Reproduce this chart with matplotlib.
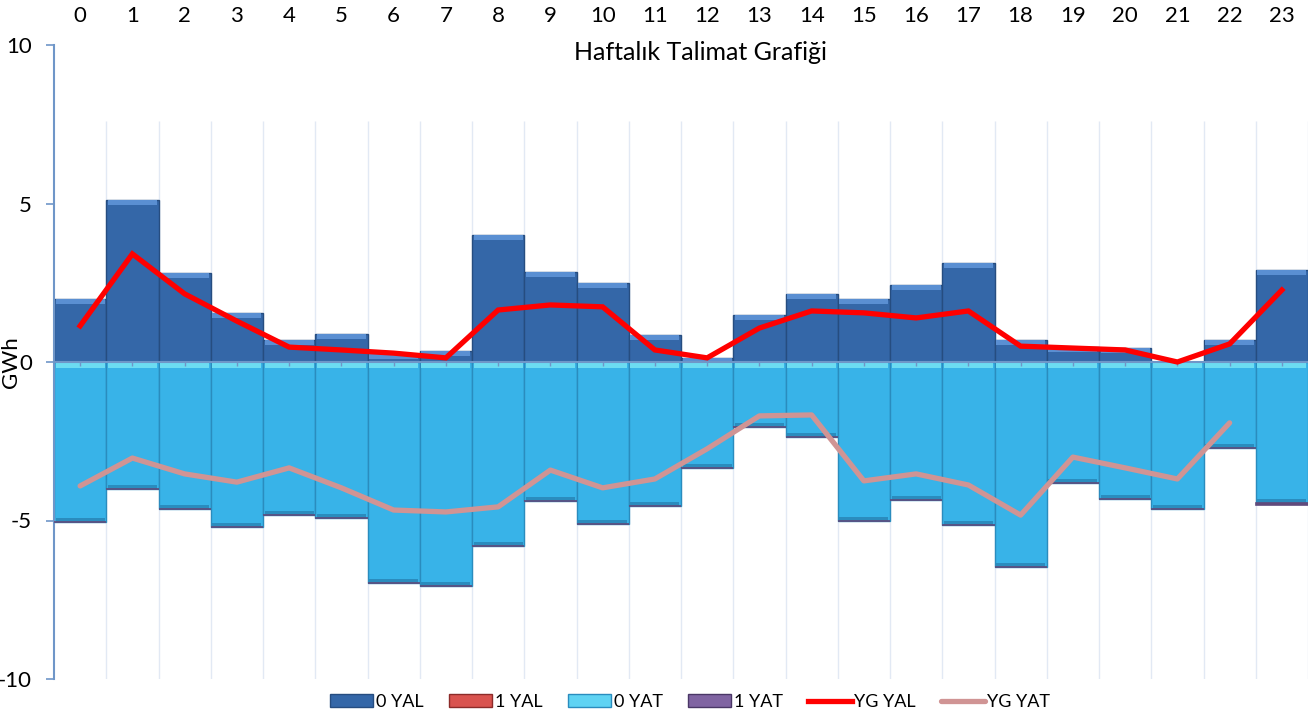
import numpy as np
import matplotlib.pyplot as plt
from matplotlib.patches import Patch
from matplotlib.lines import Line2D

plt.rcParams['font.family'] = ['Lato', 'DejaVu Sans']

hours = list(range(24))
yal0 = [1.99, 5.11, 2.81, 1.55, 0.69, 0.88, 0.25, 0.35, 4.0, 2.84, 2.49, 0.85,
        0.12, 1.48, 2.15, 1.99, 2.43, 3.12, 0.69, 0.48, 0.44, 0.0, 0.69, 2.9]
yal1 = [0.0] * 24
yat0 = [-5.05, -4.0, -4.64, -5.2, -4.83, -4.92, -6.97, -7.07, -5.8, -4.38, -5.11, -4.54,
        -3.34, -2.05, -2.37, -5.02, -4.35, -5.14, -6.47, -3.82, -4.32, -4.64, -2.71, -4.45]
yat1 = [0.0] * 23 + [-0.05]
yg_yal = [1.14, 3.41, 2.15, 1.29, 0.47, 0.38, 0.28, 0.13, 1.64, 1.8, 1.74, 0.38,
          0.13, 1.07, 1.61, 1.55, 1.39, 1.61, 0.5, 0.44, 0.38, 0.0, 0.57, 2.27]
yg_yat = [-3.91, -3.03, -3.53, -3.79, -3.34, -3.97, -4.67, -4.73, -4.57, -3.41, -3.97, -3.69,
          -2.74, -1.70, -1.67, -3.75, -3.53, -3.88, -4.83, -3.0, -3.34, -3.69, -1.92, np.nan]

c_yal0, c_yal0_edge, c_yal0_hi = '#3467a8', '#264d80', '#5a8fd2'
c_yal1 = '#c0504d'
c_yat0, c_yat0_edge, c_yat0_hi = '#38b3e8', '#2a8cbe', '#6cdcf2'
c_yat1 = '#604a7b'
c_axis = '#6f96c8'

fig = plt.figure(figsize=(13.15, 7.17), dpi=100)
ax = fig.add_axes([54 / 1315, 1 - 679 / 717, 1254 / 1315, 634 / 717])

x = np.array(hours)
yal0 = np.array(yal0)
yat0 = np.array(yat0)

# vertical grid at category boundaries
ax.vlines(np.arange(0.5, 24), -10, 7.6, color='#e2e9f4', lw=1.0, zorder=0)

# bars
ax.bar(x, yal0, width=1.0, color=c_yal0, edgecolor=c_yal0_edge, lw=1.0, zorder=2)
hi = np.minimum(yal0, 0.15)
ax.bar(x, hi, bottom=yal0 - hi, width=0.94, color=c_yal0_hi, lw=0, zorder=3)
ax.bar(x, yal1, bottom=yal0, width=1.0, color=c_yal1, zorder=2)
ax.bar(x, yat0, width=1.0, color=c_yat0, edgecolor=c_yat0_edge, lw=1.0, zorder=2)
ax.bar(x, [-0.2] * 24, width=0.94, color=c_yat0_hi, lw=0, zorder=3)
ax.bar(x, [0.12] * 24, bottom=yat0, width=0.94, color=c_yat0_edge, lw=0, zorder=3)
ax.bar(x, yat1, bottom=yat0, width=1.0, color=c_yat1, edgecolor=c_yat1, lw=1.2, zorder=3)

# lines
ax.plot(x, yg_yal, color='#ff0000', lw=3.8, zorder=5, solid_joinstyle='miter')
ax.plot(x, yg_yat, color='#d09494', lw=3.8, zorder=5, solid_capstyle='round')

# zero axis with category ticks
ax.axhline(0, color=c_axis, lw=1.5, zorder=4)
ax.vlines(x, -0.13, 0, color=c_axis, lw=1.0, zorder=4)

ax.set_xlim(-0.5, 23.5)
ax.set_ylim(-10, 10)
ax.set_yticks([-10, -5, 0, 5, 10])
ax.set_yticklabels(['-10', '-5', '0', '5', '10'], fontsize=16)
ax.tick_params(axis='y', length=6, color=c_axis, width=1.2, pad=10)
ax.xaxis.tick_top()
ax.set_xticks(x)
ax.set_xticklabels([str(h) for h in hours], fontsize=16)
ax.tick_params(axis='x', length=0, pad=14)
for s in ['top', 'right', 'bottom']:
    ax.spines[s].set_visible(False)
ax.spines['left'].set_color(c_axis)
ax.spines['left'].set_linewidth(1.5)

ax.set_ylabel('GWh', fontsize=16)
ax.yaxis.set_label_coords(-0.0265, 0.5)

fig.text(700 / 1315, 1 - 53 / 717, 'Haftalık Talimat Grafiği', fontsize=18,
         ha='center', va='center')

handles = [
    Patch(facecolor=c_yal0, edgecolor=c_yal0_edge),
    Patch(facecolor='#d9534f', edgecolor='#8c2b29'),
    Patch(facecolor='#5fd3f3', edgecolor=c_yat0_edge),
    Patch(facecolor='#8064a2', edgecolor='#4a3766'),
    Line2D([], [], color='#ff0000', lw=3.8),
    Line2D([], [], color='#d09494', lw=3.8, solid_capstyle='round'),
]
labels = ['0 YAL', '1 YAL', '0 YAT', '1 YAT', 'YG YAL', 'YG YAT']
fig.legend(handles, labels, loc='center', bbox_to_anchor=(690 / 1315, 1 - 702 / 717),
           ncol=6, frameon=False, fontsize=13, handlelength=2.4, handleheight=0.7,
           handletextpad=0.15, columnspacing=1.4)

fig.savefig('out.png', dpi=100)
